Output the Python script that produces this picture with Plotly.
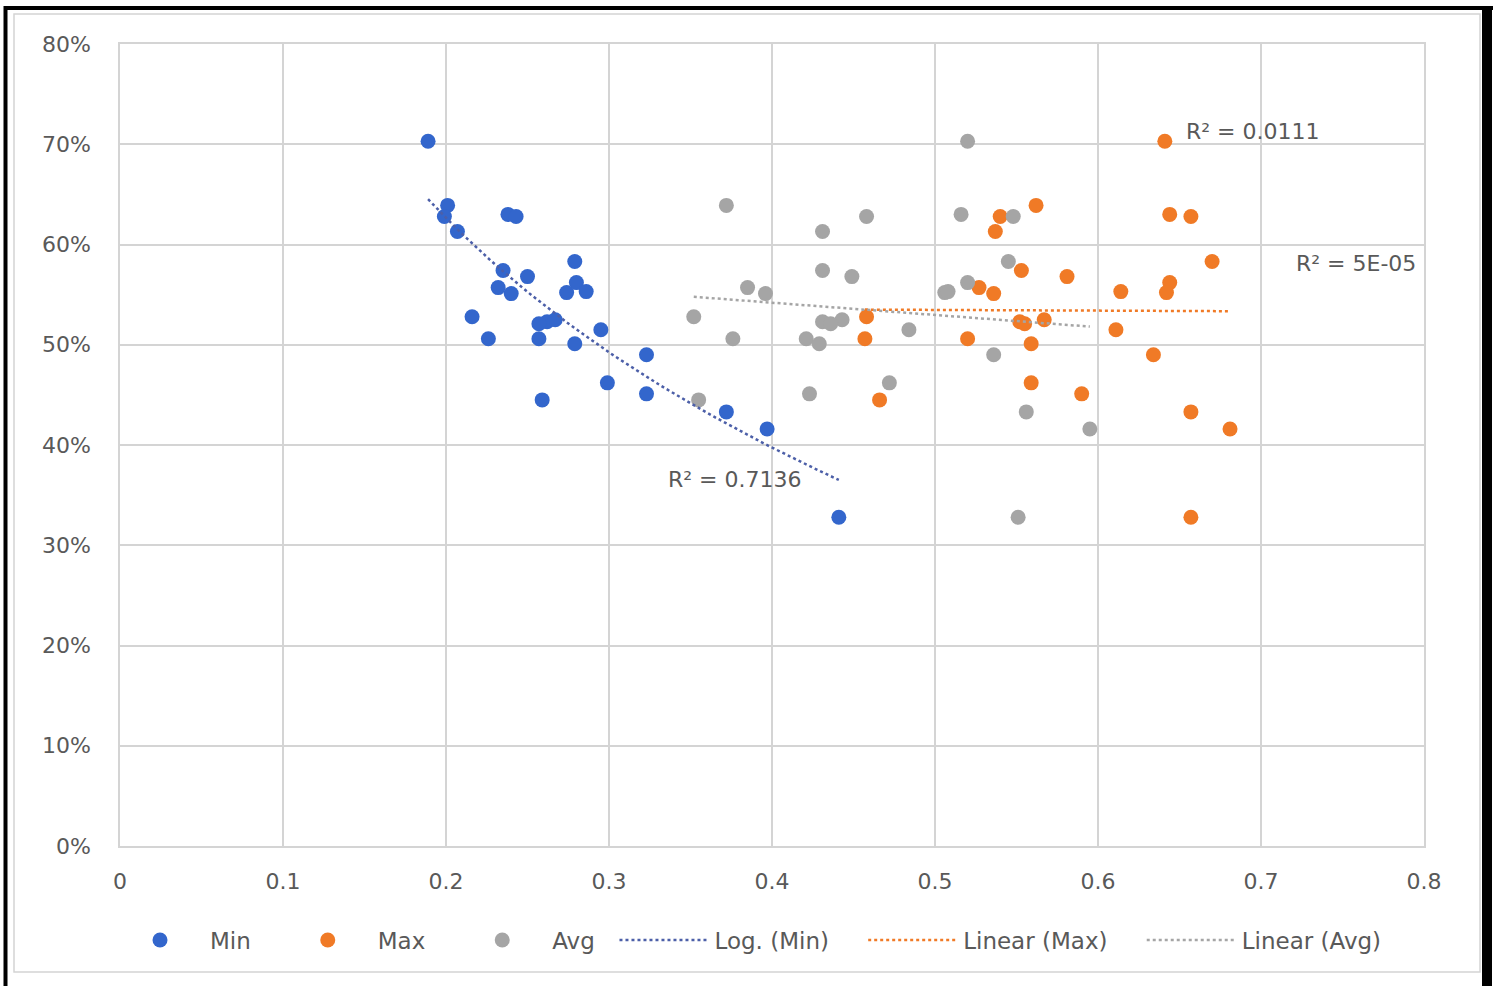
import numpy as np
import plotly.graph_objects as go

# ---- data ----
share = [0.703, 0.639, 0.628, 0.613, 0.630, 0.628, 0.583, 0.574, 0.568, 0.557,
         0.551, 0.562, 0.552, 0.553, 0.528, 0.523, 0.525, 0.521, 0.506, 0.506,
         0.501, 0.515, 0.490, 0.462, 0.451, 0.445, 0.433, 0.416, 0.328]
min_x = [0.189, 0.201, 0.199, 0.207, 0.238, 0.243, 0.279, 0.235, 0.250, 0.232,
         0.240, 0.280, 0.274, 0.286, 0.216, 0.262, 0.267, 0.257, 0.226, 0.257,
         0.279, 0.295, 0.323, 0.299, 0.323, 0.259, 0.372, 0.397, 0.441]
max_x = [0.641, 0.562, 0.540, 0.537, 0.644, 0.657, 0.670, 0.553, 0.581, 0.527,
         0.536, 0.644, 0.642, 0.614, 0.458, 0.552, 0.567, 0.555, 0.457, 0.520,
         0.559, 0.611, 0.634, 0.559, 0.590, 0.466, 0.657, 0.681, 0.657]
avg_x = [0.520, 0.372, 0.458, 0.431, 0.516, 0.548, 0.545, 0.431, 0.449, 0.385,
         0.396, 0.520, 0.506, 0.508, 0.352, 0.431, 0.443, 0.436, 0.376, 0.421,
         0.429, 0.484, 0.536, 0.472, 0.423, 0.355, 0.556, 0.595, 0.551]

x_ticks = [0, 0.1, 0.2, 0.3, 0.4, 0.5, 0.6, 0.7, 0.8]
x_tick_text = ["0", "0.1", "0.2", "0.3", "0.4", "0.5", "0.6", "0.7", "0.8"]
y_ticks = [0, 0.1, 0.2, 0.3, 0.4, 0.5, 0.6, 0.7, 0.8]
y_tick_text = ["0%", "10%", "20%", "30%", "40%", "50%", "60%", "70%", "80%"]

series_names = ["Min", "Max", "Avg", "Log. (Min)", "Linear (Max)", "Linear (Avg)"]
r2_labels = ["R² = 0.7136", "R² = 0.0111", "R² = 5E-05"]

BLUE = "#3366CC"
ORANGE = "#F07A26"
GRAY = "#A5A5A5"
TEXT = "#595959"
GRID = "#D4D4D4"
FONT = "DejaVu Sans"
FS = 22
LFS = 23

W, H = 1501, 986
L, R, T, B = 120, 1424, 44, 846

def px(xp):
    return (xp - L) / (R - L)

def py(yp):
    return (B - yp) / (B - T)

NB = "\u00a0"
# legend spacing padding (non-breaking spaces after names)
pads = [3, 3, 2, 4, 4, 0]
legend_names = [n + NB * p for n, p in zip(series_names, pads)]

fig = go.Figure()
mk = dict(size=15, line=dict(width=0))
fig.add_trace(go.Scatter(x=min_x, y=share, mode="markers", name=legend_names[0],
                         marker=dict(color=BLUE, **mk)))
fig.add_trace(go.Scatter(x=max_x, y=share, mode="markers", name=legend_names[1],
                         marker=dict(color=ORANGE, **mk)))
fig.add_trace(go.Scatter(x=avg_x, y=share, mode="markers", name=legend_names[2],
                         marker=dict(color=GRAY, **mk)))

# trendlines fitted from the data
mn = np.array(min_x); mx = np.array(max_x); av = np.array(avg_x); yy = np.array(share)
a, b = np.polyfit(np.log(mn), yy, 1)
xl = np.linspace(mn.min(), mn.max(), 60)
fig.add_trace(go.Scatter(x=xl, y=a * np.log(xl) + b, mode="lines", name=legend_names[3],
                         line=dict(color="#4C5FA8", width=2.5, dash="dot")))
m1, c1 = np.polyfit(mx, yy, 1)
xm = np.array([mx.min(), mx.max()])
fig.add_trace(go.Scatter(x=xm, y=m1 * xm + c1, mode="lines", name=legend_names[4],
                         line=dict(color=ORANGE, width=2.5, dash="dot")))
m2, c2 = np.polyfit(av, yy, 1)
xa = np.array([av.min(), av.max()])
fig.add_trace(go.Scatter(x=xa, y=m2 * xa + c2, mode="lines", name=legend_names[5],
                         line=dict(color=GRAY, width=2.5, dash="dot")))

# R² labels
afont = dict(size=FS, color=TEXT, family=FONT)
fig.add_annotation(x=0.377, y=0.366, text=r2_labels[0], showarrow=False, font=afont)
fig.add_annotation(x=0.653, y=0.713, text=r2_labels[1], showarrow=False, xanchor="left", font=afont)
fig.add_annotation(x=0.720, y=0.581, text=r2_labels[2], showarrow=False, xanchor="left", font=afont)

shapes = [
    dict(type="rect", xref="paper", yref="paper", x0=px(14), x1=px(1480), y0=py(972), y1=py(14),
         line=dict(color=GRID, width=1.5), layer="below"),
    dict(type="line", xref="paper", yref="paper", x0=px(5.5), x1=px(5.5), y0=py(990), y1=py(6),
         line=dict(color="black", width=4)),
    dict(type="line", xref="paper", yref="paper", x0=px(4), x1=px(1493), y0=py(8), y1=py(8),
         line=dict(color="black", width=4)),
    dict(type="line", xref="paper", yref="paper", x0=px(1487), x1=px(1487), y0=py(990), y1=py(6),
         line=dict(color="black", width=10)),
]

fig.update_layout(
    width=W, height=H,
    margin=dict(l=L, r=W - R, t=T, b=H - B),
    paper_bgcolor="white", plot_bgcolor="white",
    font=dict(family=FONT, color=TEXT, size=FS),
    showlegend=True,
    legend=dict(orientation="h", x=px(110), xanchor="left", y=py(940), yanchor="middle",
                font=dict(size=LFS, color=TEXT, family=FONT), itemwidth=90,
                bgcolor="rgba(0,0,0,0)"),
    shapes=shapes,
)
fig.update_xaxes(range=[0, 0.8], tickvals=x_ticks, ticktext=x_tick_text,
                 showgrid=True, gridcolor=GRID, gridwidth=1.5, zeroline=False,
                 showline=True, linecolor=GRID, linewidth=1.5, mirror=True,
                 ticks="", ticklabelstandoff=15,
                 tickfont=dict(size=FS, color=TEXT, family=FONT))
fig.update_yaxes(range=[0, 0.8], tickvals=y_ticks, ticktext=y_tick_text,
                 showgrid=True, gridcolor=GRID, gridwidth=1.5, zeroline=False,
                 showline=True, linecolor=GRID, linewidth=1.5, mirror=True,
                 ticks="", ticklabelstandoff=23,
                 tickfont=dict(size=FS, color=TEXT, family=FONT))

fig.write_html("out.html", config={"displayModeBar": False},
               post_script="document.body.style.margin='0px';document.body.style.overflow='hidden';")
